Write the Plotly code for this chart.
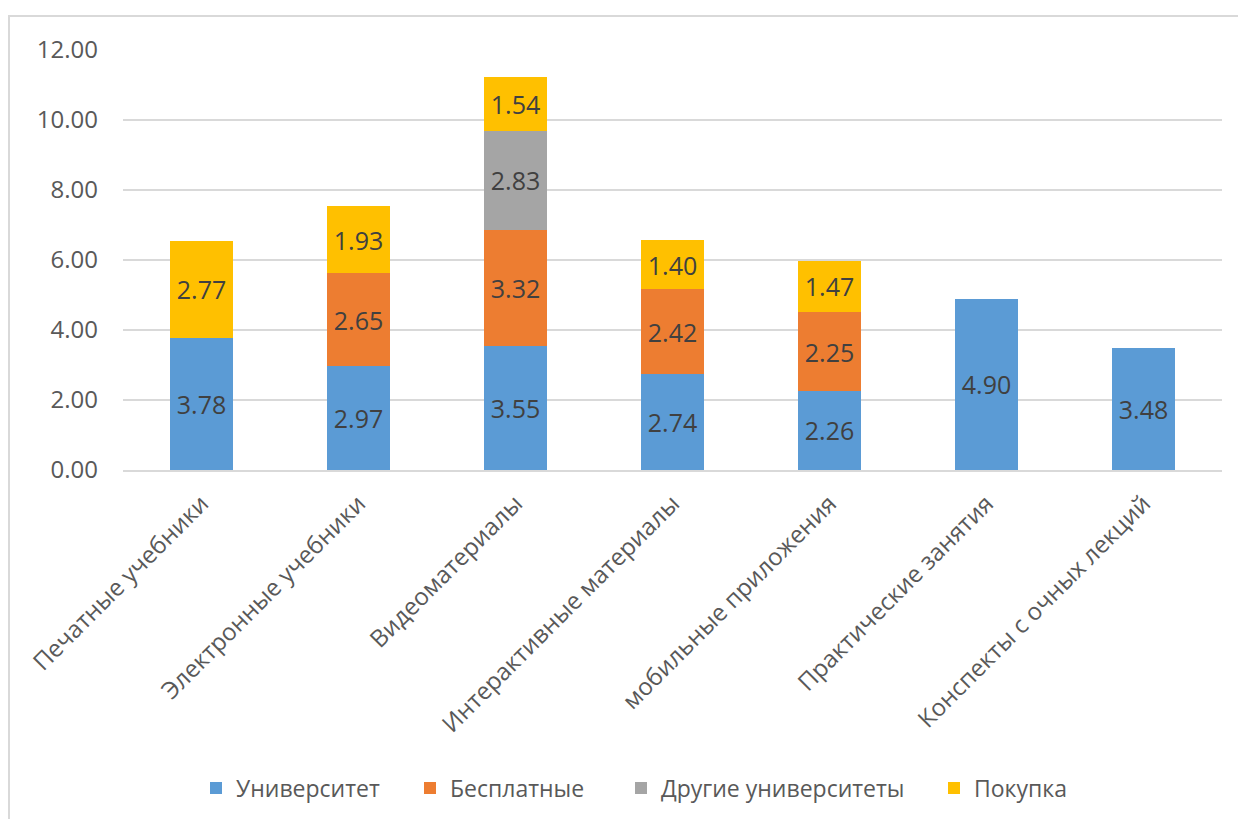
import plotly.graph_objects as go

categories = ["Печатные учебники", "Электронные учебники", "Видеоматериалы",
              "Интерактивные материалы", "мобильные приложения",
              "Практические занятия", "Конспекты с очных лекций"]
universitet = [3.78, 2.97, 3.55, 2.74, 2.26, 4.90, 3.48]
besplatnye = [None, 2.65, 3.32, 2.42, 2.25, None, None]
drugie = [None, None, 2.83, None, None, None, None]
pokupka = [2.77, 1.93, 1.54, 1.40, 1.47, None, None]

series = [("Университет", universitet, "#5B9BD5"),
          ("Бесплатные", besplatnye, "#ED7D31"),
          ("Другие университеты", drugie, "#A5A5A5"),
          ("Покупка", pokupka, "#FFC000")]

FONT = "Open Sans, Liberation Sans, sans-serif"
OFF = 8  # page body margin
W, H = 1246 - 2 * OFF, 827 - 2 * OFF
l, t = 123 - OFF, 50 - OFF
pw, ph = 1099, 420
r, b = W - l - pw, H - t - ph

legend_px = [210, 424, 635, 948]  # symbol left edges in page pixels
legend_names = ["legend", "legend2", "legend3", "legend4"]

fig = go.Figure()
for (name, vals, col), lg in zip(series, legend_names):
    fig.add_trace(go.Bar(
        x=categories, y=vals, name=name, legend=lg,
        marker=dict(color=col, line=dict(width=0)),
        texttemplate="%{y:.2f}", textposition="inside", insidetextanchor="middle",
        textfont=dict(color="#404040", size=25, family=FONT), textangle=0,
    ))

legend_y = (t + ph - (788 - OFF)) / ph
layout_legends = {}
for lg, px in zip(legend_names, legend_px):
    layout_legends[lg] = dict(
        orientation="h", x=(px - OFF - l - 14) / pw, xanchor="left",
        y=legend_y, yanchor="middle", font=dict(size=23, color="#595959", family=FONT),
        bgcolor="rgba(0,0,0,0)")

fig.update_layout(
    width=W, height=H, barmode="stack", bargap=0.6,
    margin=dict(l=l, r=r, t=t, b=b, autoexpand=False),
    paper_bgcolor="white", plot_bgcolor="white",
    font=dict(family=FONT, color="#595959", size=24),
    showlegend=True,
    **layout_legends,
)
fig.update_xaxes(tickangle=-45, showgrid=False, showline=True, linecolor="#d9d9d9",
                 linewidth=2, ticks="", ticklabelstandoff=8,
                 tickfont=dict(size=24, color="#595959"))
fig.update_yaxes(range=[0, 12], dtick=2, tickformat=".2f", showgrid=True,
                 gridcolor="#d9d9d9", gridwidth=2, zeroline=False, showline=False,
                 ticks="", ticklabelstandoff=24, tickfont=dict(size=24, color="#595959"))

fig.add_shape(type="rect", xref="paper", yref="paper",
              x0=(9 - OFF - l) / pw, x1=(W + 20 - l) / pw,
              y0=(t + ph - H - 20) / ph, y1=(t + ph - (16 - OFF)) / ph,
              line=dict(color="#d9d9d9", width=2), layer="below")

fig.write_html("out.html")
